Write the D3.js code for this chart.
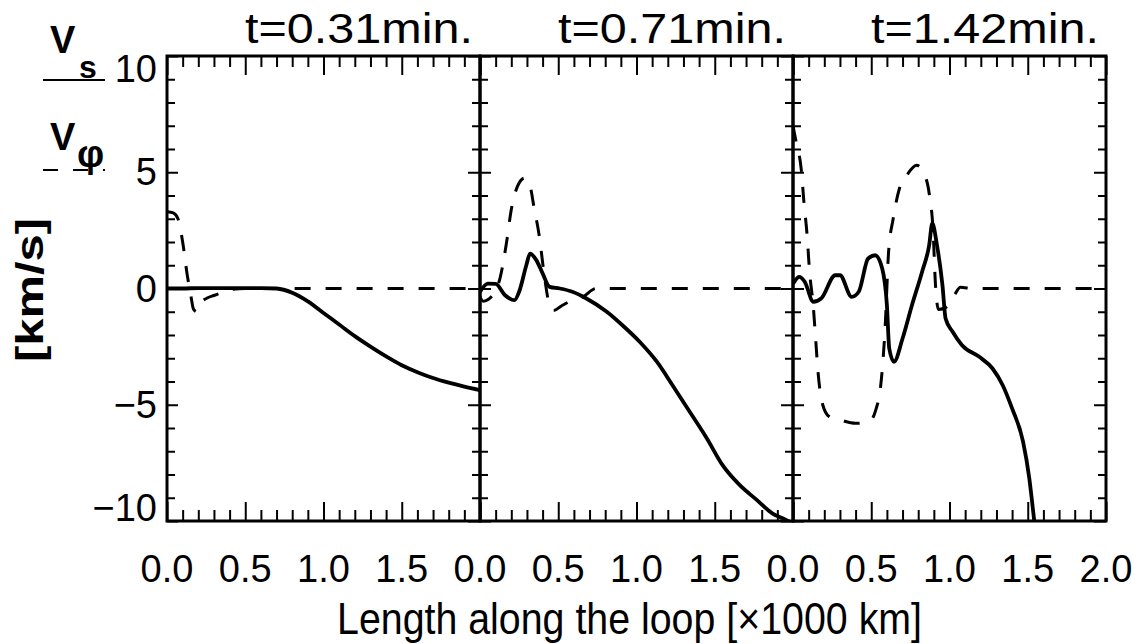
<!DOCTYPE html>
<html><head><meta charset="utf-8">
<script src="https://cdn.jsdelivr.net/npm/d3@7"></script>
<style>html,body{margin:0;padding:0;background:#fff}svg{display:block}</style>
</head><body>
<svg id="chart" width="1139" height="644"></svg>
<script>
// ---------- data ----------
const titles = ["t=0.31min.", "t=0.71min.", "t=1.42min."];
const xMajorTicks = [0, 0.5, 1.0, 1.5, 2.0];
const xTickLabels = ["0.0", "0.5", "1.0", "1.5", "2.0"];
const yMajorTicks = [-10, -5, 0, 5, 10];
const yTickLabels = ["\u221210", "\u22125", "0", "5", "10"];
const yAxisLabel = "[km/s]";
const xAxisLabel = "Length along the loop [\u00d71000 km]";

// panel 1 (t=0.31 min)
const vs1X = [0, 0.1, 0.2, 0.3, 0.4, 0.5, 0.6, 0.7, 0.8, 0.9, 1.0, 1.1, 1.2, 1.3, 1.4, 1.5, 1.6, 1.7, 1.8, 1.9, 2.0];
const vs1Y = [0, 0, 0.02, 0.02, 0.02, 0.02, 0.02, 0, -0.18, -0.55, -1.05, -1.55, -2.05, -2.5, -2.92, -3.3, -3.6, -3.85, -4.05, -4.22, -4.37];
const vp1X = [0, 0.04, 0.07, 0.1, 0.13, 0.15, 0.17, 0.19, 0.22, 0.26, 0.3, 0.34, 0.4, 0.5, 1.0, 1.5, 2.0];
const vp1Y = [3.3, 3.25, 3.0, 2.0, 0.55, -0.2, -0.9, -1.0, -0.6, -0.4, -0.3, -0.2, -0.05, 0, 0, 0, 0];

// panel 2 (t=0.71 min)
const vs2X = [0, 0.05, 0.1, 0.16, 0.22, 0.25, 0.296, 0.32, 0.36, 0.4, 0.445, 0.51, 0.59, 0.68, 0.81, 0.91, 1.02, 1.13, 1.23, 1.34, 1.45, 1.55, 1.66, 1.77, 1.87, 1.94, 2.0];
const vs2Y = [-0.14, 0.21, 0.2, -0.29, -0.5, -0.14, 1.0, 1.5, 1.22, 0.65, 0.07, 0, -0.14, -0.43, -1.0, -1.58, -2.29, -3.15, -4.16, -5.3, -6.45, -7.6, -8.46, -9.1, -9.68, -9.9, -10.1];
const vp2X = [0, 0.02, 0.08, 0.13, 0.17, 0.2, 0.24, 0.285, 0.32, 0.345, 0.38, 0.41, 0.44, 0.47, 0.52, 0.59, 0.66, 0.74, 1.0, 1.5, 2.0];
const vp2Y = [-0.35, -0.55, -0.3, 0.5, 2.0, 3.4, 4.4, 4.75, 4.4, 3.5, 2.2, 0.6, -0.6, -0.95, -0.75, -0.5, -0.35, 0, 0, 0, 0];

// panel 3 (t=1.42 min)
const vs3X = [0, 0.04, 0.075, 0.13, 0.18, 0.27, 0.3, 0.375, 0.42, 0.48, 0.525, 0.57, 0.6, 0.615, 0.645, 0.7, 0.76, 0.825, 0.87, 0.89, 0.92, 0.955, 0.975, 1.02, 1.08, 1.19, 1.275, 1.34, 1.4, 1.47, 1.51, 1.54, 1.56];
const vs3Y = [0.2, 0.5, 0.29, -0.57, -0.43, 0.57, 0.57, -0.36, -0.14, 1.29, 1.43, 0.86, -0.72, -2.58, -3.15, -2.15, -0.72, 0.72, 1.86, 2.8, 1.86, 0.14, -1.29, -1.86, -2.44, -2.94, -3.44, -4.16, -5.16, -6.59, -8.17, -9.9, -11];
const vp3X = [0, 0.02, 0.053, 0.07, 0.09, 0.105, 0.13, 0.145, 0.16, 0.19, 0.23, 0.3, 0.4, 0.49, 0.53, 0.56, 0.59, 0.61, 0.64, 0.68, 0.73, 0.79, 0.84, 0.87, 0.895, 0.91, 0.93, 0.98, 1.03, 1.07, 1.15, 1.5, 2.0];
const vp3Y = [7.0, 6.3, 5.1, 3.7, 2.3, 0.8, -0.8, -2.2, -3.6, -5.0, -5.5, -5.65, -5.8, -5.7, -5.2, -4.2, -1.5, 1.5, 3.0, 4.3, 4.9, 5.3, 4.9, 4.1, 2.5, 0.2, -0.9, -0.8, -0.3, 0.05, 0, 0, 0];

const panelSolidX = [vs1X, vs2X, vs3X];
const panelSolidY = [vs1Y, vs2Y, vs3Y];
const panelDashX = [vp1X, vp2X, vp3X];
const panelDashY = [vp1Y, vp2Y, vp3Y];

// ---------- layout ----------
const svg = d3.select("#chart");
const font = "'Liberation Sans', Arial, sans-serif";
const plotLeft = 167, plotRight = 1106, plotTop = 56, plotBottom = 521;
const panelW = (plotRight - plotLeft) / 3;
const y = d3.scaleLinear().domain([-10, 10]).range([plotBottom, plotTop]);

svg.append("rect").attr("width", 1139).attr("height", 644).attr("fill", "#fff");

const xMinor = d3.range(0, 21).map(d => d / 10).filter(d => !xMajorTicks.some(m => Math.abs(m - d) < 1e-9));
const yMinor = d3.range(-10, 11).filter(d => d % 5 !== 0);

function styleAxis(g) {
  g.select(".domain").remove();
  g.selectAll("line").attr("stroke", "#000").attr("stroke-width", 2);
  g.selectAll("text").remove();
}

titles.forEach((title, i) => {
  const x0 = plotLeft + i * panelW, x1 = x0 + panelW;
  const x = d3.scaleLinear().domain([0, 2]).range([x0, x1]);
  const g = svg.append("g");

  const clipId = "clip" + i;
  svg.append("clipPath").attr("id", clipId)
    .append("rect").attr("x", x0).attr("y", plotTop).attr("width", panelW).attr("height", plotBottom - plotTop);

  // ticks (inward)
  g.append("g").attr("transform", `translate(0,${plotTop})`)
    .call(d3.axisBottom(x).tickValues(xMajorTicks).tickSizeInner(19).tickSizeOuter(0)).call(styleAxis);
  g.append("g").attr("transform", `translate(0,${plotTop})`)
    .call(d3.axisBottom(x).tickValues(xMinor).tickSizeInner(11).tickSizeOuter(0)).call(styleAxis);
  g.append("g").attr("transform", `translate(0,${plotBottom})`)
    .call(d3.axisTop(x).tickValues(xMajorTicks).tickSizeInner(19).tickSizeOuter(0)).call(styleAxis);
  g.append("g").attr("transform", `translate(0,${plotBottom})`)
    .call(d3.axisTop(x).tickValues(xMinor).tickSizeInner(11).tickSizeOuter(0)).call(styleAxis);
  g.append("g").attr("transform", `translate(${x0},0)`)
    .call(d3.axisRight(y).tickValues(yMajorTicks).tickSizeInner(11).tickSizeOuter(0)).call(styleAxis);
  g.append("g").attr("transform", `translate(${x0},0)`)
    .call(d3.axisRight(y).tickValues(yMinor).tickSizeInner(8).tickSizeOuter(0)).call(styleAxis);
  g.append("g").attr("transform", `translate(${x1},0)`)
    .call(d3.axisLeft(y).tickValues(yMajorTicks).tickSizeInner(12).tickSizeOuter(0)).call(styleAxis);
  g.append("g").attr("transform", `translate(${x1},0)`)
    .call(d3.axisLeft(y).tickValues(yMinor).tickSizeInner(8).tickSizeOuter(0)).call(styleAxis);

  // frame
  g.append("rect").attr("x", x0).attr("y", plotTop).attr("width", panelW).attr("height", plotBottom - plotTop)
    .attr("fill", "none").attr("stroke", "#000").attr("stroke-width", 3);

  // curves
  const line = d3.line().x(d => x(d[0])).y(d => y(d[1])).curve(d3.curveMonotoneX);
  const solid = panelSolidX[i].map((v, k) => [v, panelSolidY[i][k]]);
  const dash = panelDashX[i].map((v, k) => [v, panelDashY[i][k]]);
  const cg = g.append("g").attr("clip-path", `url(#${clipId})`);
  cg.append("path").attr("d", line(dash)).attr("fill", "none").attr("stroke", "#000")
    .attr("stroke-width", 3).attr("stroke-dasharray", "16,15");
  cg.append("path").attr("d", line(solid)).attr("fill", "none").attr("stroke", "#000")
    .attr("stroke-width", 3.8).attr("stroke-linejoin", "round");

  // x tick labels
  const nLab = i === 2 ? 5 : 4;
  g.selectAll("text.xl").data(xMajorTicks.slice(0, nLab)).join("text")
    .attr("x", d => x(d)).attr("y", 582)
    .attr("text-anchor", "middle").attr("font-family", font).attr("font-size", 38)
    .text((d, k) => xTickLabels[k]);

  // title
  g.append("text").attr("x", x1 - 7).attr("y", 43).attr("text-anchor", "end")
    .attr("font-family", font).attr("font-size", 42)
    .attr("textLength", 228).attr("lengthAdjust", "spacingAndGlyphs")
    .text(title);
});

// y tick labels
svg.selectAll("text.yl").data(yMajorTicks).join("text")
  .attr("x", 157)
  .attr("y", d => y(d) + 13 + (d === 10 ? 13 : d === -10 ? -13 : 0))
  .attr("text-anchor", "end").attr("font-family", font).attr("font-size", 38)
  .text((d, k) => yTickLabels[k]);

// y axis label
svg.append("text").attr("transform", "translate(43,290) rotate(-90)")
  .attr("text-anchor", "middle").attr("font-family", font).attr("font-size", 38).attr("font-weight", "bold")
  .attr("textLength", 144).attr("lengthAdjust", "spacingAndGlyphs")
  .text(yAxisLabel);

// x axis label
svg.append("text").attr("x", 629.5).attr("y", 634)
  .attr("text-anchor", "middle").attr("font-family", font).attr("font-size", 44)
  .attr("textLength", 585).attr("lengthAdjust", "spacingAndGlyphs")
  .text(xAxisLabel);

// legend
const leg = svg.append("g");
const t1 = leg.append("text").attr("x", 50).attr("y", 53).attr("font-family", font).attr("font-weight", "bold").attr("font-size", 38);
t1.append("tspan").text("V");
t1.append("tspan").attr("x", 79).attr("y", 78).attr("font-size", 32).text("s");
leg.append("line").attr("x1", 43).attr("x2", 105).attr("y1", 80).attr("y2", 80).attr("stroke", "#000").attr("stroke-width", 2);
const t2 = leg.append("text").attr("x", 50).attr("y", 150).attr("font-family", font).attr("font-weight", "bold").attr("font-size", 38);
t2.append("tspan").text("V");
t2.append("tspan").attr("x", 77).attr("y", 167).attr("font-size", 38).text("\u03c6");
leg.append("line").attr("x1", 43).attr("x2", 105).attr("y1", 170).attr("y2", 170).attr("stroke", "#000").attr("stroke-width", 2)
  .attr("stroke-dasharray", "15,15");
</script>
</body></html>
